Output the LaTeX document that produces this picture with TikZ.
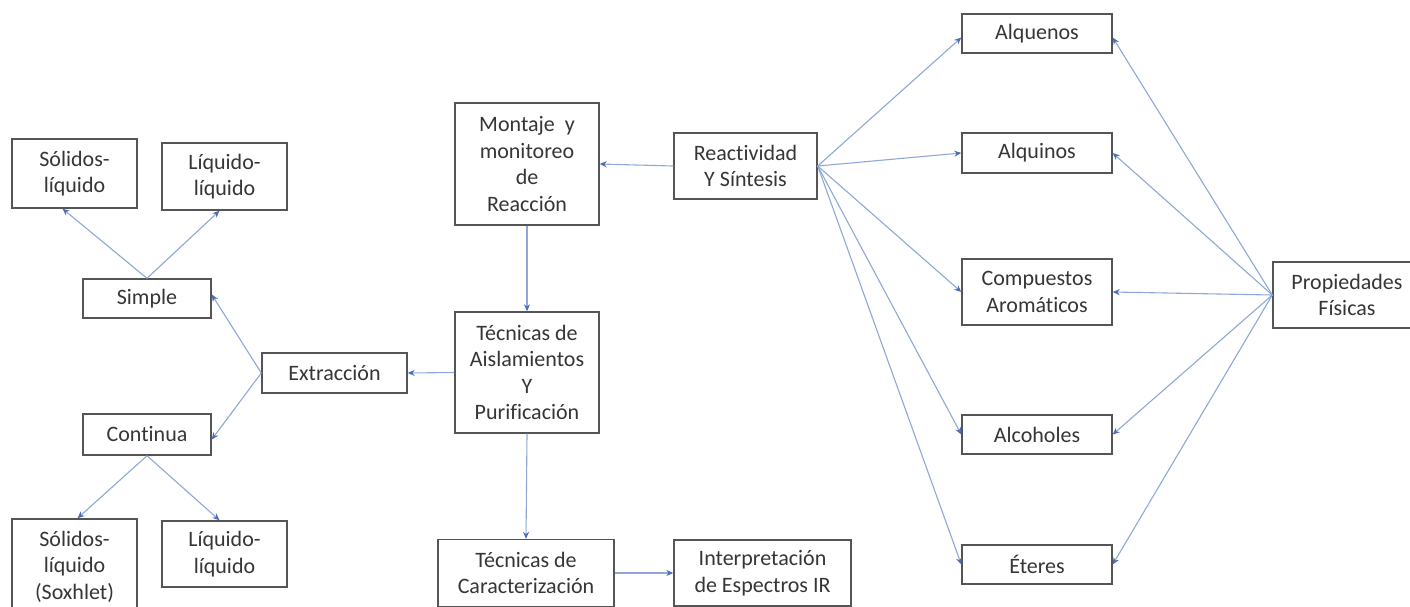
\documentclass[tikz,border=0pt]{standalone}
\usepackage{fontspec}
\setmainfont{Carlito}[Ligatures={NoCommon}]
\usetikzlibrary{arrows.meta}
\definecolor{linec}{HTML}{8FA8D8}
\definecolor{tipc}{HTML}{4A6FB5}
\definecolor{boxc}{HTML}{555555}
\definecolor{txtc}{HTML}{363636}
\tikzset{
  box/.style={draw=boxc, line width=1.4pt, fill=white, align=center, inner sep=0pt,
    text=txtc, font=\fontsize{22}{26.5}\selectfont},
  conn/.style={draw=linec, line width=1.1pt, -{Stealth[length=7pt,width=6pt,color=tipc]}}
}
\begin{document}
\begin{tikzpicture}[x=1pt,y=-1pt]
\useasboundingbox (0,0) rectangle (1410,606);
\clip (0,0) rectangle (1410,606);
\fill[white] (0,0) rectangle (1410,606);
% left column
\node[box, minimum width=125pt, minimum height=69pt] (sl1) at (74.5,173.5) {Sólidos-\\líquido};
\node[box, minimum width=125pt, minimum height=67pt] (ll1) at (224.5,176.5) {Líquido-\\líquido};
\node[box, minimum width=128pt, minimum height=39pt] (simple) at (147,298.5) {Simple};
\node[box, minimum width=145pt, minimum height=40pt] (extr) at (334.5,373) {Extracción};
\node[box, minimum width=128pt, minimum height=41pt] (cont) at (147,434.5) {Continua};
\node[box, minimum width=125pt, minimum height=95pt] (sl2) at (74.5,566.5) {Sólidos-\\líquido\\(Soxhlet)};
\node[box, minimum width=125pt, minimum height=66pt] (ll2) at (224.5,554) {Líquido-\\líquido};
% middle
\node[box, minimum width=144pt, minimum height=122pt] (mont) at (527,164) {Montaje\ \ y\\monitoreo\\de\\Reacción};
\node[box, minimum width=144pt, minimum height=121pt] (aisl) at (527,372.5) {Técnicas de\\Aislamientos\\Y\\Purificación};
\node[box, minimum width=176pt, minimum height=67pt] (car) at (526,573) {Técnicas de\\Caracterización};
\node[box, minimum width=177pt, minimum height=66pt] (interp) at (762.5,573) {Interpretación\\de Espectros IR};
\node[box, minimum width=143pt, minimum height=66pt] (react) at (745.5,166) {Reactividad\\Y Síntesis};
% right
\node[box, minimum width=150pt, minimum height=39pt] (alqn) at (1037,33.5) {Alquenos};
\node[box, minimum width=150pt, minimum height=40pt] (alqi) at (1037,153) {Alquinos};
\node[box, minimum width=150pt, minimum height=66pt] (comp) at (1037,292) {Compuestos\\Aromáticos};
\node[box, minimum width=150pt, minimum height=39pt] (alco) at (1037,434.5) {Alcoholes};
\node[box, minimum width=150pt, minimum height=39pt] (eter) at (1037,564.5) {Éteres};
\node[box, minimum width=148pt, minimum height=66pt] (prop) at (1347,295) {Propiedades\\Físicas};
% connectors
\draw[conn] (simple.north) -- ([xshift=-12pt]sl1.south);
\draw[conn] (simple.north) -- ([xshift=-5pt]ll1.south);
\draw[conn] (extr.west) -- ([yshift=4pt]simple.east);
\draw[conn] (extr.west) -- ([yshift=-5pt]cont.east);
\draw[conn] (cont.south) -- ([xshift=3pt]sl2.north);
\draw[conn] (cont.south) -- ([xshift=-5pt]ll2.north);
\draw[conn] (aisl.west) -- (extr.east);
\draw[conn] (react.west) -- (mont.east);
\draw[conn] (mont.south) -- (aisl.north);
\draw[conn] (aisl.south) -- (car.north);
\draw[conn] (car.east) -- (interp.west);
\draw[conn] (react.east) -- ([yshift=-4pt]alqn.west);
\draw[conn] (react.east) -- (alqi.west);
\draw[conn] (react.east) -- (comp.west);
\draw[conn] (react.east) -- (alco.west);
\draw[conn] (react.east) -- (eter.west);
\draw[conn] (prop.west) -- ([yshift=-4pt]alqn.east);
\draw[conn] (prop.west) -- (alqi.east);
\draw[conn] (prop.west) -- (comp.east);
\draw[conn] (prop.west) -- (alco.east);
\draw[conn] (prop.west) -- (eter.east);
\end{tikzpicture}
\end{document}
